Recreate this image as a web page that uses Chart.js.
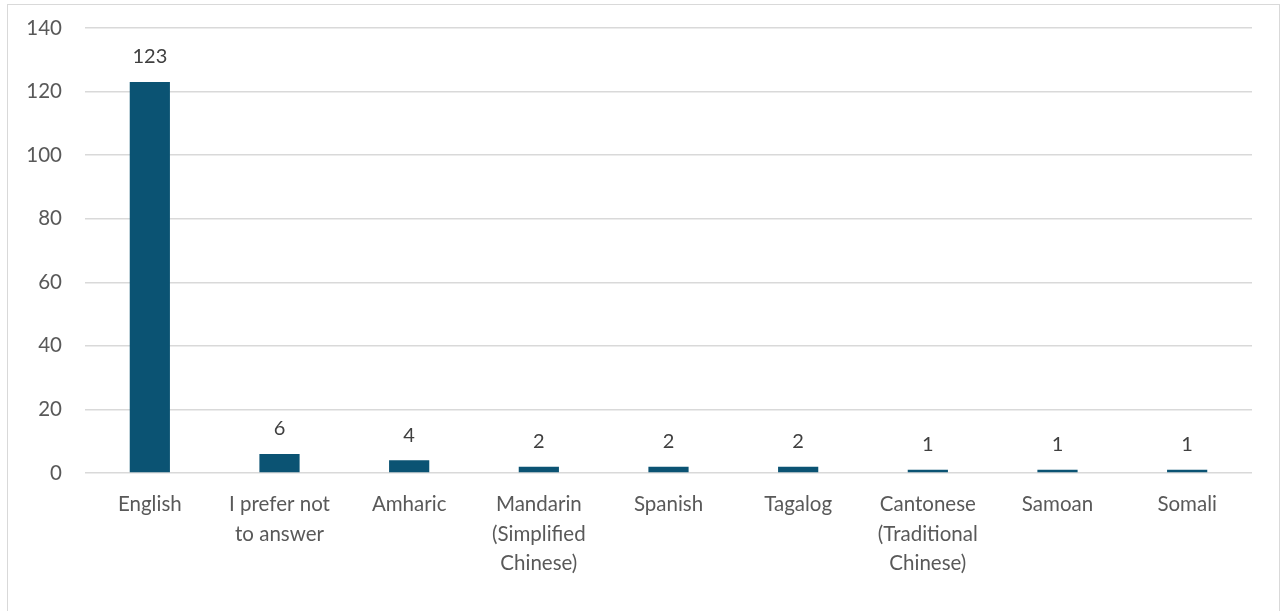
<!DOCTYPE html>
<html>
<head>
<meta charset="utf-8">
<script src="https://cdn.jsdelivr.net/npm/chart.js@4/dist/chart.umd.min.js"></script>
<style>
  html, body { margin: 0; padding: 0; background: #fff; overflow: hidden; }
  #frame { position: absolute; left: 7px; top: 4px; width: 1271px; height: 640px; border: 1px solid #d9d9d9; }
  #wrap { position: absolute; left: 0; top: 0; width: 1281px; height: 611px; }
</style>
</head>
<body>
<div id="frame"></div>
<div id="wrap"><canvas id="chart"></canvas></div>
<script>
// categories and values
const languages = [
  'English',
  ['I prefer not', 'to answer'],
  'Amharic',
  ['Mandarin', '(Simplified', 'Chinese)'],
  'Spanish',
  'Tagalog',
  ['Cantonese', '(Traditional', 'Chinese)'],
  'Samoan',
  'Somali'
];
const counts = [123, 6, 4, 2, 2, 2, 1, 1, 1];
const yTicks = [0, 20, 40, 60, 80, 100, 120, 140];

const FONT = 'Lato, "Liberation Sans", sans-serif';

// value labels above each bar
const barLabels = {
  id: 'barLabels',
  afterDatasetsDraw(chart) {
    const ctx = chart.ctx;
    const meta = chart.getDatasetMeta(0);
    ctx.save();
    ctx.font = '20px ' + FONT;
    ctx.fillStyle = '#404040';
    ctx.textAlign = 'center';
    ctx.textBaseline = 'middle';
    meta.data.forEach((bar, i) => {
      ctx.fillText(String(counts[i]), bar.x, bar.y - 25);
    });
    ctx.restore();
  }
};

new Chart(document.getElementById('chart'), {
  type: 'bar',
  data: {
    labels: languages,
    datasets: [{
      data: counts,
      backgroundColor: '#0b5373',
      barPercentage: 0.31,
      categoryPercentage: 1
    }]
  },
  options: {
    responsive: true,
    maintainAspectRatio: false,
    animation: false,
    layout: { padding: { top: 28, right: 29, bottom: 0, left: 0 } },
    plugins: { legend: { display: false }, tooltip: { enabled: false } },
    scales: {
      x: {
        grid: { display: false },
        border: { display: false },
        ticks: {
          color: '#595959',
          font: { family: FONT, size: 20.5, lineHeight: 1.43 },
          padding: 9,
          maxRotation: 0,
          autoSkip: false
        },
        afterFit: s => { s.height = 138; s.paddingLeft = 0; s.paddingRight = 0; }
      },
      y: {
        min: 0,
        max: 140,
        afterBuildTicks: s => { s.ticks = yTicks.map(v => ({ value: v })); },
        grid: { color: '#d9d9d9', lineWidth: 1.5, drawTicks: false },
        border: { display: false },
        ticks: {
          color: '#595959',
          font: { family: FONT, size: 20.5 },
          padding: 23
        },
        afterFit: s => { s.width = 85; s.paddingTop = 0; s.paddingBottom = 0; }
      }
    }
  },
  plugins: [barLabels]
});
</script>
</body>
</html>
